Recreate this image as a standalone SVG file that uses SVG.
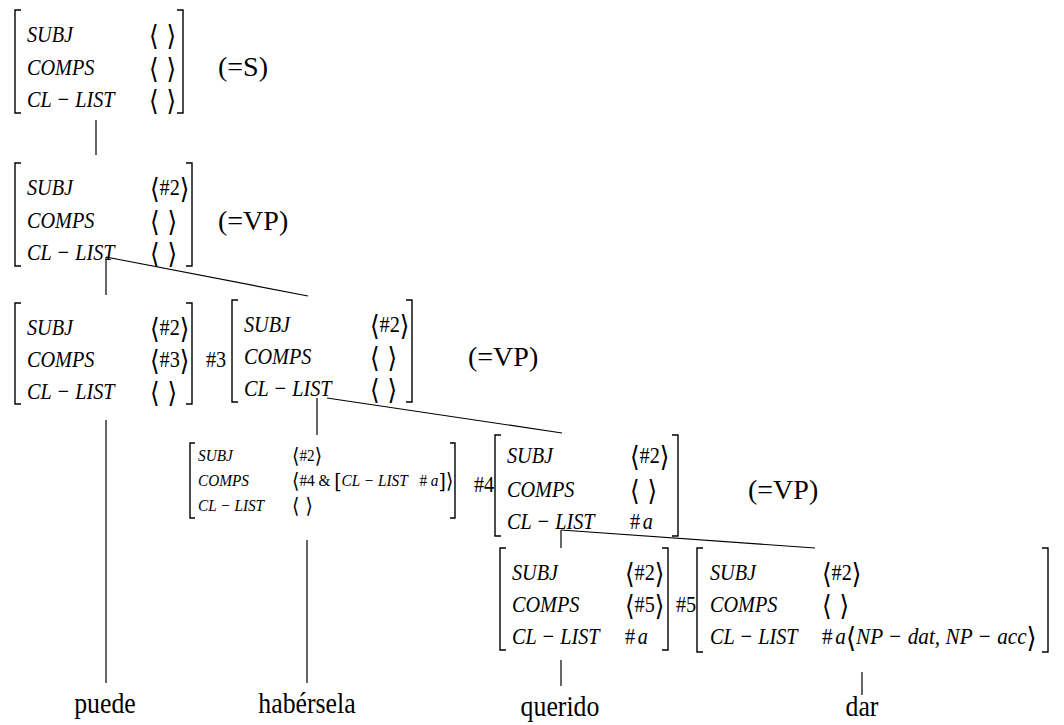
<svg xmlns="http://www.w3.org/2000/svg" width="1064" height="725" viewBox="0 0 1064 725">
<style>
.k{font-family:"Liberation Serif",serif;font-style:italic;font-size:23px;fill:#000}
.v{font-family:"Liberation Serif",serif;font-style:normal;font-size:23px;fill:#000}
.ab{font-family:"DejaVu Serif","Liberation Serif",serif;font-style:normal;font-size:28px;fill:#000}
.ks{font-family:"Liberation Serif",serif;font-style:italic;font-size:17px;fill:#000}
.vs{font-family:"Liberation Serif",serif;font-style:normal;font-size:17px;fill:#000}
.abs{font-family:"DejaVu Serif","Liberation Serif",serif;font-style:normal;font-size:21px;fill:#000}
.lbl{font-family:"Liberation Serif",serif;font-size:28px;fill:#000}
.w{font-family:"Liberation Serif",serif;font-size:30px;fill:#000;text-anchor:middle}
.br{fill:none;stroke:#000;stroke-width:1.4}
.ln{stroke:#000;stroke-width:1.2;fill:none}
</style>
<rect width="1064" height="725" fill="#fff"/>
<g id="avm-s">
<path class="br" d="M21,10H15V113H21M177,10H183V113H177"/>
<text class="k" transform="matrix(.88,0,0,1,27,42)">SUBJ</text>
<text class="k" transform="matrix(.88,0,0,1,27,75)">COMPS</text>
<text class="k" transform="matrix(.88,0,0,1,27,107)">CL − LIST</text>
<text class="ab" transform="matrix(.88,0,0,1,149,45)">⟨ ⟩</text>
<text class="ab" transform="matrix(.88,0,0,1,149,78)">⟨ ⟩</text>
<text class="ab" transform="matrix(.88,0,0,1,149,110)">⟨ ⟩</text>
<text class="lbl" x="218" y="76">(=S)</text>
</g>
<g id="avm-vp1">
<path class="br" d="M21,163H15V266H21M186,163H192V266H186"/>
<text class="k" transform="matrix(.88,0,0,1,27,195)">SUBJ</text>
<text class="k" transform="matrix(.88,0,0,1,27,228)">COMPS</text>
<text class="k" transform="matrix(.88,0,0,1,27,260)">CL − LIST</text>
<text transform="matrix(.88,0,0,1,150,198)"><tspan class="ab">⟨</tspan><tspan class="v" dy="-3">#2</tspan><tspan class="ab" dy="3">⟩</tspan></text>
<text class="ab" transform="matrix(.88,0,0,1,150,231)">⟨ ⟩</text>
<text class="ab" transform="matrix(.88,0,0,1,150,263)">⟨ ⟩</text>
<text class="lbl" x="218" y="230">(=VP)</text>
</g>
<g id="avm-puede">
<path class="br" d="M21,303H15V404H21M186,303H192V404H186"/>
<text class="k" transform="matrix(.88,0,0,1,27,335)">SUBJ</text>
<text class="k" transform="matrix(.88,0,0,1,27,367)">COMPS</text>
<text class="k" transform="matrix(.88,0,0,1,27,399)">CL − LIST</text>
<text transform="matrix(.88,0,0,1,150,338)"><tspan class="ab">⟨</tspan><tspan class="v" dy="-3">#2</tspan><tspan class="ab" dy="3">⟩</tspan></text>
<text transform="matrix(.88,0,0,1,150,370)"><tspan class="ab">⟨</tspan><tspan class="v" dy="-3">#3</tspan><tspan class="ab" dy="3">⟩</tspan></text>
<text class="ab" transform="matrix(.88,0,0,1,150,402)">⟨ ⟩</text>
</g>
<g id="avm-vp2">
<text class="v" transform="matrix(.88,0,0,1,206,367)">#3</text>
<path class="br" d="M238,300H232V402H238M406,300H412V402H406"/>
<text class="k" transform="matrix(.88,0,0,1,244,332)">SUBJ</text>
<text class="k" transform="matrix(.88,0,0,1,244,364)">COMPS</text>
<text class="k" transform="matrix(.88,0,0,1,244,396)">CL − LIST</text>
<text transform="matrix(.88,0,0,1,370,335)"><tspan class="ab">⟨</tspan><tspan class="v" dy="-3">#2</tspan><tspan class="ab" dy="3">⟩</tspan></text>
<text class="ab" transform="matrix(.88,0,0,1,370,367)">⟨ ⟩</text>
<text class="ab" transform="matrix(.88,0,0,1,370,399)">⟨ ⟩</text>
<text class="lbl" x="468" y="366">(=VP)</text>
</g>
<g id="avm-habersela">
<path class="br" d="M195,443H190V518H195M450,443H455V518H450"/>
<text class="ks" transform="matrix(.9,0,0,1,198,461)">SUBJ</text>
<text class="ks" transform="matrix(.9,0,0,1,198,486)">COMPS</text>
<text class="ks" transform="matrix(.9,0,0,1,198,511)">CL − LIST</text>
<text transform="matrix(.9,0,0,1,292,463)"><tspan class="abs">⟨</tspan><tspan class="vs" dy="-2">#2</tspan><tspan class="abs" dy="2">⟩</tspan></text>
<text transform="matrix(.9,0,0,1,292,488)"><tspan class="abs">⟨</tspan><tspan class="vs" dy="-2">#4 &amp; </tspan><tspan class="abs" dy="2">[</tspan><tspan class="ks" dy="-2">CL − LIST</tspan><tspan class="vs" dx="13"># </tspan><tspan class="ks">a</tspan><tspan class="abs" dy="2">]⟩</tspan></text>
<text class="abs" transform="matrix(.9,0,0,1,292,513)">⟨ ⟩</text>
</g>
<g id="avm-vp3">
<text class="v" transform="matrix(.88,0,0,1,474,492)">#4</text>
<path class="br" d="M501,435H495V536H501M672,435H678V536H672"/>
<text class="k" transform="matrix(.88,0,0,1,507,463)">SUBJ</text>
<text class="k" transform="matrix(.88,0,0,1,507,497)">COMPS</text>
<text class="k" transform="matrix(.88,0,0,1,507,529)">CL − LIST</text>
<text transform="matrix(.88,0,0,1,630,466)"><tspan class="ab">⟨</tspan><tspan class="v" dy="-3">#2</tspan><tspan class="ab" dy="3">⟩</tspan></text>
<text class="ab" transform="matrix(.88,0,0,1,630,500)">⟨ ⟩</text>
<text transform="matrix(.88,0,0,1,630,529)"><tspan class="v">#</tspan><tspan class="k" dx="3">a</tspan></text>
<text class="lbl" x="748" y="499">(=VP)</text>
</g>
<g id="avm-querido">
<path class="br" d="M506,548H500V650H506M662,548H668V650H662"/>
<text class="k" transform="matrix(.88,0,0,1,512,580)">SUBJ</text>
<text class="k" transform="matrix(.88,0,0,1,512,612)">COMPS</text>
<text class="k" transform="matrix(.88,0,0,1,512,644)">CL − LIST</text>
<text transform="matrix(.88,0,0,1,625,583)"><tspan class="ab">⟨</tspan><tspan class="v" dy="-3">#2</tspan><tspan class="ab" dy="3">⟩</tspan></text>
<text transform="matrix(.88,0,0,1,625,615)"><tspan class="ab">⟨</tspan><tspan class="v" dy="-3">#5</tspan><tspan class="ab" dy="3">⟩</tspan></text>
<text transform="matrix(.88,0,0,1,625,644)"><tspan class="v">#</tspan><tspan class="k" dx="3">a</tspan></text>
</g>
<g id="avm-dar">
<text class="v" transform="matrix(.88,0,0,1,676,612)">#5</text>
<path class="br" d="M703,548H697V652H703M1042,548H1048V652H1042"/>
<text class="k" transform="matrix(.88,0,0,1,710,580)">SUBJ</text>
<text class="k" transform="matrix(.88,0,0,1,710,612)">COMPS</text>
<text class="k" transform="matrix(.88,0,0,1,710,644)">CL − LIST</text>
<text transform="matrix(.88,0,0,1,822,583)"><tspan class="ab">⟨</tspan><tspan class="v" dy="-3">#2</tspan><tspan class="ab" dy="3">⟩</tspan></text>
<text class="ab" transform="matrix(.88,0,0,1,822,615)">⟨ ⟩</text>
<text transform="matrix(.88,0,0,1,822,644)" textLength="244" lengthAdjust="spacingAndGlyphs"><tspan class="v">#</tspan><tspan class="k" dx="3">a</tspan><tspan class="ab" dy="3">⟨</tspan><tspan class="k" dy="-3">NP − dat, NP − acc</tspan><tspan class="ab" dy="3">⟩</tspan></text>
</g>
<g id="words">
<text class="w" transform="matrix(.86,0,0,1,105,713)">puede</text>
<text class="w" transform="matrix(.86,0,0,1,307,713)">habérsela</text>
<text class="w" transform="matrix(.86,0,0,1,560,716)">querido</text>
<text class="w" transform="matrix(.86,0,0,1,862,716)">dar</text>
</g>
<g id="connectors">
<line class="ln" x1="96" y1="120" x2="96" y2="155"/>
<line class="ln" x1="106" y1="257" x2="106" y2="295"/>
<line class="ln" x1="106" y1="257" x2="308" y2="296"/>
<line class="ln" x1="106" y1="420" x2="106" y2="683"/>
<line class="ln" x1="317" y1="398" x2="317" y2="435"/>
<line class="ln" x1="327" y1="398" x2="562" y2="433"/>
<line class="ln" x1="307" y1="540" x2="307" y2="683"/>
<line class="ln" x1="561" y1="530" x2="561" y2="548"/>
<line class="ln" x1="561" y1="530" x2="815" y2="548"/>
<line class="ln" x1="561" y1="660" x2="561" y2="686"/>
<line class="ln" x1="862" y1="672" x2="862" y2="695"/>
</g>
</svg>
